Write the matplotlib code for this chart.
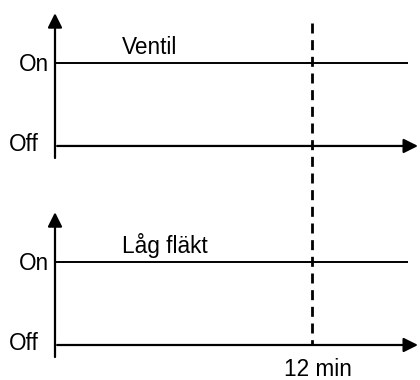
import matplotlib.pyplot as plt

plt.rcParams["font.family"] = ["Liberation Sans", "DejaVu Sans"]

# signals, top to bottom
signals = ["Ventil", "Låg fläkt"]
state_labels = ["Off", "On"]
# on-line start/end times (min) and level for each signal
times = [0, 16.5]
ventil = [1, 1]
lag_flakt = [1, 1]
levels = [ventil, lag_flakt]
marker_min = 12
marker_label = "12 min"

# vertical offset of each track (data units)
offsets = [2.398, 0.0]
px = 1 / 83.0          # one pixel in y data units
pxx = 12 / 257.0       # one pixel in x data units

fig = plt.figure(figsize=(4.2, 3.8), dpi=100)
ax = fig.add_axes([0, 0, 1, 1])
ax.axis("off")
ax.set_xlim(-55 * pxx, 365 * pxx)
ax.set_ylim(-35 * px, 345 * px)

arrow = dict(arrowstyle="-|>,head_length=0.86,head_width=0.43",
             color="k", lw=1.6, shrinkA=0, shrinkB=0, mutation_scale=10)

for name, vals, off in zip(signals, levels, offsets):
    # on state line
    ax.plot(times, [off + v for v in vals], color="k", lw=1.4,
            solid_capstyle="butt")
    # vertical axis with arrow
    ax.annotate("", xy=(0, off + 1.6), xytext=(0, off - 0.145),
                arrowprops=arrow)
    # time axis with arrow
    ax.annotate("", xy=(16.95, off), xytext=(0.1, off), arrowprops=arrow)
    # texts
    ax.text(-6 * pxx, off + 1 - 8 * px, state_labels[1], ha="right",
            va="baseline", fontsize=16.3)
    ax.text(-16 * pxx, off - 5 * px, state_labels[0], ha="right",
            va="baseline", fontsize=16.3)
    ax.text(67 * pxx, off + 1 + 9 * px, name, ha="left",
            va="baseline", fontsize=16.3)

# dashed marker across both tracks
ax.plot([marker_min, marker_min], [offsets[0] + 1.48, 0.0], color="k",
        lw=2.0, ls=(0, (3.6, 2.4)))
ax.text(marker_min + 6 * pxx, -31 * px, marker_label, ha="center",
        va="baseline", fontsize=16.3)

fig.savefig("out.png", dpi=100)
